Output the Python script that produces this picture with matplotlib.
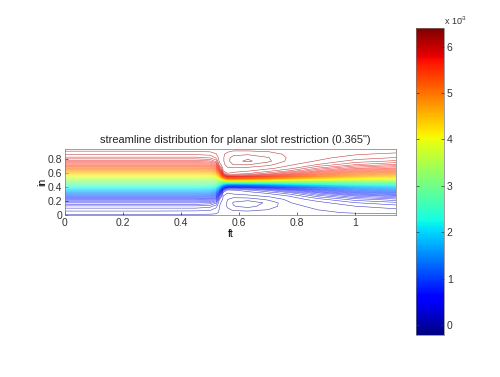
import numpy as np
import matplotlib
matplotlib.use('Agg')
import matplotlib.pyplot as plt

plt.rcParams['font.family'] = ['Liberation Sans', 'DejaVu Sans']

# stations along the channel (ft) and distance from the centreline (in)
x_stations = [0, 0.30, 0.45, 0.50, 0.52, 0.532, 0.545, 0.56, 0.58, 0.63, 0.70, 0.78, 0.87, 1.0, 1.14]
d_rows = [0, 0.03, 0.06, 0.09, 0.12, 0.16, 0.20, 0.25, 0.30, 0.35, 0.40, 0.44, 0.475]

# stream function in the half channel, 0 at centreline, 1 at wall, one row per station
half_psi = [
    [0, .10, .20, .30, .40, .53, .65, .78, .87, .93, .965, .985, 1.005],
    [0, .10, .20, .30, .40, .53, .65, .78, .87, .93, .965, .985, 1.005],
    [0, .10, .20, .30, .40, .53, .65, .78, .87, .93, .965, .988, 1.005],
    [0, .10, .20, .31, .41, .54, .66, .79, .88, .94, .97, .99, 1.005],
    [0, .11, .23, .35, .46, .60, .72, .84, .92, .965, .985, .995, 1.005],
    [0, .16, .33, .49, .63, .79, .90, .975, .995, 1.0, 1.002, 1.003, 1.005],
    [0, .30, .58, .80, .93, .99, 1.0, 1.005, 1.01, 1.01, 1.01, 1.008, 1.005],
    [0, .42, .74, .92, .985, 1.0, 1.01, 1.025, 1.03, 1.03, 1.02, 1.01, 1.005],
    [0, .42, .75, .92, .98, .995, 1.01, 1.04, 1.055, 1.05, 1.03, 1.015, 1.005],
    [0, .40, .72, .89, .96, .99, 1.005, 1.04, 1.07, 1.06, 1.035, 1.015, 1.005],
    [0, .36, .65, .83, .92, .97, .995, 1.02, 1.045, 1.04, 1.025, 1.012, 1.005],
    [0, .30, .56, .74, .85, .93, .97, .99, 1.0, 1.005, 1.005, 1.005, 1.005],
    [0, .25, .47, .64, .75, .85, .91, .96, .985, .995, 1.0, 1.003, 1.005],
    [0, .19, .37, .52, .63, .75, .84, .91, .95, .975, .99, .998, 1.005],
    [0, .17, .33, .46, .57, .70, .80, .88, .93, .96, .98, .995, 1.005],
]

centre_y = 0.475
psi_mid = 3.1  # x 1e-3
level_values = np.arange(-0.24, 6.5, 0.08)
cbar_min = -0.21
cbar_max = 6.4
cbar_ticks = [0, 1, 2, 3, 4, 5, 6]
x_ticks = [0, 0.2, 0.4, 0.6, 0.8, 1]
y_ticks = [0, 0.2, 0.4, 0.6, 0.8]

W, H = 500, 377


def add_axes_px(fig, left, top, right, bottom):
    return fig.add_axes([left / W, 1 - bottom / H, (right - left) / W, (bottom - top) / H])


def style_axes(ax):
    ax.tick_params(direction='in', length=2, width=0.5, labelsize=7.5, pad=2, colors='#333333')
    for s in ax.spines.values():
        s.set_linewidth(0.5)
        s.set_color('#777777')


def main():
    half = np.array(half_psi)
    d = np.array(d_rows)
    # mirror the half channel about the centreline
    y = np.concatenate([centre_y - d[:0:-1], centre_y + d])
    psi = psi_mid * (1 + np.hstack([-half[:, :0:-1], half]))

    fig = plt.figure(figsize=(W / 100, H / 100), dpi=100)
    ax = add_axes_px(fig, 65, 149, 396, 215)
    ax.contour(x_stations, y, psi.T, levels=level_values, cmap='jet',
               vmin=cbar_min, vmax=cbar_max, linewidths=0.4, alpha=0.75)
    ax.set_xlim(0, 1.14)
    ax.set_ylim(0, 0.95)
    ax.set_xticks(x_ticks)
    ax.set_xticklabels(['0', '0.2', '0.4', '0.6', '0.8', '1'])
    ax.set_yticks(y_ticks)
    ax.set_yticklabels(['0', '0.2', '0.4', '0.6', '0.8'])
    ax.set_xlabel('ft', fontsize=7.5, labelpad=1)
    ax.set_ylabel('in', fontsize=7.5, labelpad=0)
    ax.set_title('streamline distribution for planar slot restriction (0.365")',
                 fontsize=7.9, pad=4, color='#222222', x=0.516)
    style_axes(ax)

    cax = add_axes_px(fig, 416, 28, 444, 335)
    sm = plt.cm.ScalarMappable(norm=plt.Normalize(cbar_min, cbar_max), cmap='jet')
    cb = fig.colorbar(sm, cax=cax)
    cb.set_ticks(cbar_ticks)
    cb.outline.set_linewidth(0.5)
    cb.outline.set_edgecolor('#777777')
    style_axes(cax)
    cax.tick_params(left=True, right=True)
    fig.text(445 / W, 1 - 24 / H, 'x 10', fontsize=6.5, color='#333333')
    fig.text(460.5 / W, 1 - 20 / H, '-3', fontsize=4.5, color='#333333')

    fig.savefig('out.png', dpi=100)


if __name__ == "__main__":
    main()
